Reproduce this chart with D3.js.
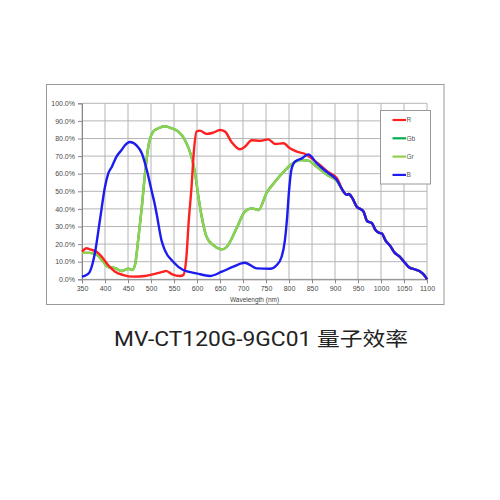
<!DOCTYPE html>
<html>
<head>
<meta charset="utf-8">
<script src="https://cdn.jsdelivr.net/npm/d3@7"></script>
<style>
	body{margin:0;background:#fff;}
	svg{display:block;}
	.tick text{font-family:'Liberation Sans',Arial,sans-serif;font-size:7px;fill:#4a4a4a;}
</style>
</head>
<body>
<svg id="chart" width="500" height="500"></svg>
<script>
/*values: wavelength (nm) and QE (%)*/
const xTicks = [350,400,450,500,550,600,650,700,750,800,850,900,950,1000,1050,1100]
const yTicks = [0,10,20,30,40,50,60,70,80,90,100]

const rNm = [350,360,367,382,393,407,422,440,461,487,512,527,532,545,563,570,577,582,588,593,599,606,621,635,650,661,675,693,704,719,737,755,770,788,802,817,835,849,867,885,904]
const rQE = [15.7,17.6,17,15.7,12.8,8,4.3,2.4,1.5,1.9,3.4,4.3,4.8,3,1.9,2.4,12.8,33,52,72,84,84.5,82.6,83.3,84.8,83.9,78,73.9,75.3,79,78.7,79.5,76.9,77.3,74.4,72.5,71.2,68.7,65,61,57.4]

const grNm = [350,367,382,393,407,422,436,451,459,465,472,480,487,494,505,516,530,545,559,574,588,596,603,610,621,635,654,665,686,704,719,734,751,770,788,806,824,842,860,885,904]
const grQE = [15,15,14,11,7,6.4,4.7,6,5.3,8,22,41,60,75,84,85.8,87,85.8,84,79,69.6,60,47,36,24,19.5,17,18.5,29,38.4,40.3,39.4,49,55.5,61,65.5,67.8,67.4,64,59,56]

const gbNm = grNm
const gbQE = grQE

const bNm = [350,360,367,378,389,400,407,415,425,436,443,454,469,480,491,501,507,512,523,530,548,570,599,628,654,679,704,730,759,773,784,791,796,800,805,813,828,842,860,882,904]
const bQE = [1.5,2.5,4.3,14.8,33.7,52.6,60,64,69.7,73.5,76,78,76,71.6,62,50.7,44,37.5,22,16.6,10,5.3,3.4,1.9,4.3,7.2,9.4,6.2,6,8,12.8,22,35.5,50,62,66.8,68.7,71,66,61,56.4]

/*shared tail where all four curves overlap*/
const tailNm = [918,925,930,938,948,955,962,970,980,988,995,1002,1010,1020,1030,1040,1050,1060,1075,1085,1095,1100]
const tailQE = [50,48,48.5,46,41,40,38.5,33,32,28,26.5,26,22,19,15,13,10,7,5.5,4.5,2,0]

const seriesNames = ['R','Gb','Gr','B']
const seriesColors = ['#ff2020','#00b050','#92d050','#1c1cf0']

const svg = d3.select('#chart')

/*outer frame*/
svg.append('rect')
	.attr('x',46.5).attr('y',84.5)
	.attr('width',397.5).attr('height',220)
	.attr('fill','#fff')
	.attr('stroke','#999')
	.attr('stroke-width',1)

const xScale = d3.scaleLinear().domain([350,1100]).range([82,427])
const yScale = d3.scaleLinear().domain([0,100]).range([279.3,103.3])

/*grid*/
const grid = svg.append('g').attr('stroke','#b4b4b4').attr('stroke-width',1)
grid.selectAll('.vg')
	.data(xTicks)
	.enter()
	.append('line')
	.attr('x1',d => xScale(d)).attr('x2',d => xScale(d))
	.attr('y1',yScale(100)).attr('y2',yScale(0))
grid.selectAll('.hg')
	.data(yTicks)
	.enter()
	.append('line')
	.attr('x1',xScale(350)).attr('x2',xScale(1100))
	.attr('y1',d => yScale(d)).attr('y2',d => yScale(d))

const axisX = svg.append('g')
	.attr('transform',`translate(0,${yScale(0)})`)
	.call(d3.axisBottom(xScale).tickValues(xTicks).tickFormat(d3.format('d')).tickSize(4).tickPadding(3))
axisX.select('.domain').attr('stroke','#888')
axisX.selectAll('.tick line').attr('stroke','#888')

const axisY = svg.append('g')
	.attr('transform',`translate(${xScale(350)},0)`)
	.call(d3.axisLeft(yScale).tickValues(yTicks).tickFormat(d => d.toFixed(1) + '%').tickSize(4).tickPadding(3))
axisY.select('.domain').attr('stroke','#888')
axisY.selectAll('.tick line').attr('stroke','#888')

svg.append('text')
	.attr('x',(xScale(350) + xScale(1100)) / 2)
	.attr('y',302)
	.attr('text-anchor','middle')
	.attr('font-family','Liberation Sans, Arial, sans-serif')
	.attr('font-size',6.5)
	.attr('fill','#444')
	.text('Wavelength  (nm)')

/*curves*/
const line = d3.line()
	.x(d => xScale(d[0]))
	.y(d => yScale(d[1]))
	.curve(d3.curveMonotoneX)

const zip = (a,b) => a.map((v,i) => [v,b[i]])
const tail = zip(tailNm,tailQE)

const curves = [
	{name:'Gb', pts:zip(gbNm,gbQE).concat(tail)},
	{name:'Gr', pts:zip(grNm,grQE).concat(tail)},
	{name:'R', pts:zip(rNm,rQE).concat(tail)},
	{name:'B', pts:zip(bNm,bQE).concat(tail)}
]

svg.append('g')
	.selectAll('path')
	.data(curves)
	.enter()
	.append('path')
	.attr('d',d => line(d.pts))
	.attr('fill','none')
	.attr('stroke',d => seriesColors[seriesNames.indexOf(d.name)])
	.attr('stroke-width',2.4)
	.attr('stroke-linejoin','round')

/*legend*/
const legend = svg.append('g')
legend.append('rect')
	.attr('x',380.5).attr('y',110.5)
	.attr('width',50).attr('height',73.5)
	.attr('fill','#fff')
	.attr('stroke','#999')

const items = legend.selectAll('.item')
	.data(seriesNames)
	.enter()
	.append('g')
	.attr('transform',(d,i) => `translate(0,${120 + i * 18.3})`)
items.append('line')
	.attr('x1',392.5).attr('x2',406)
	.attr('stroke',(d,i) => seriesColors[i])
	.attr('stroke-width',2.2)
items.append('text')
	.attr('x',406.5).attr('dy','0.35em')
	.attr('font-family','Liberation Sans, Arial, sans-serif')
	.attr('font-size',6.5)
	.attr('fill','#555')
	.text(d => d)

/*title*/
svg.append('text')
	.attr('x',114)
	.attr('y',346)
	.attr('textLength',294)
	.attr('lengthAdjust','spacingAndGlyphs')
	.attr('font-family',"Roboto, 'Noto Sans CJK SC', sans-serif")
	.attr('font-size',19.5)
	.attr('fill','#222')
	.text('MV-CT120G-9GC01 量子效率')
</script>
</body>
</html>
